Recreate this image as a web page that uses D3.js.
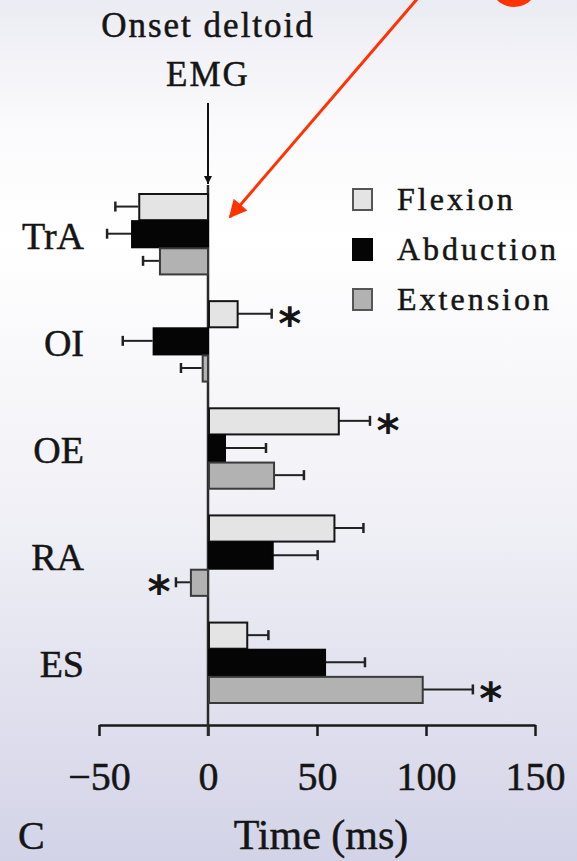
<!DOCTYPE html>
<html lang="en">
<head>
    <meta charset="UTF-8">
    <title>Onset deltoid EMG</title>
    <script src="https://cdn.jsdelivr.net/npm/d3@7"></script>
    <style>
        body {
            margin: 0;
            background: #ffffff;
        }

        text {
            font-family: "Liberation Serif", "Times New Roman", serif;
            fill: #151515;
            stroke: #151515;
            stroke-width: 0.5px;
        }

        text.title {
            font-size: 35px;
            letter-spacing: 2px;
        }

        text.cat {
            font-size: 38px;
        }

        text.legend {
            font-size: 32px;
            letter-spacing: 3px;
        }

        text.star {
            font-family: "DejaVu Sans", sans-serif;
            font-weight: bold;
            font-size: 44px;
            stroke-width: 0;
        }

        .x_axis path, .x_axis line {
            stroke: #1a1a1a;
            stroke-width: 2.5px;
        }

        .x_axis text {
            font-family: "Liberation Serif", "Times New Roman", serif;
            font-size: 40px;
            fill: #151515;
            stroke: #151515;
            stroke-width: 0.5px;
        }
    </style>
</head>
<body>
<div id="chart"></div>
<script>
    // values (ms, relative to deltoid onset)
    const muscles = ["TrA", "OI", "OE", "RA", "ES"];
    const tasks = ["Flexion", "Abduction", "Extension"];
    const flexion = [-32, 13.6, 60, 58, 18];
    const flexionSd = [10.5, 15.6, 14.3, 13.3, 9.7];
    const abduction = [-35.3, -25.4, 7.8, 29.7, 53.7];
    const abductionSd = [11, 13.7, 18.8, 20.6, 18.3];
    const extension = [-22.5, -2.9, 30.3, -8.3, 98.5];
    const extensionSd = [7.3, 9.5, 13.7, 6.4, 23];
    const flexionStar = [false, true, true, false, false];
    const abductionStar = [false, false, false, false, false];
    const extensionStar = [false, false, false, true, true];
    const xTicks = [-50, 0, 50, 100, 150];

    const W = 577, H = 861;
    const fills = {Flexion: "#e4e4e4", Abduction: "#050505", Extension: "#b2b2b2"};
    const strokes = {Flexion: "#151515", Abduction: "#050505", Extension: "#3a3a3a"};

    const series = [
        {task: "Flexion", mean: flexion, sd: flexionSd, star: flexionStar},
        {task: "Abduction", mean: abduction, sd: abductionSd, star: abductionStar},
        {task: "Extension", mean: extension, sd: extensionSd, star: extensionStar}
    ];
    const rows = [];
    series.forEach(function (s) {
        muscles.forEach(function (m, i) {
            rows.push({muscle: m, task: s.task, mean: s.mean[i], sd: s.sd[i], star: s.star[i]});
        });
    });

    const svg = d3.select("#chart").append("svg")
        .attr("width", W)
        .attr("height", H);

    // background gradient
    const grad = svg.append("defs").append("linearGradient")
        .attr("id", "bg").attr("x1", 0).attr("y1", 0).attr("x2", 0).attr("y2", 1);
    grad.append("stop").attr("offset", "0%").attr("stop-color", "#ebebf3");
    grad.append("stop").attr("offset", "14%").attr("stop-color", "#fafafc");
    grad.append("stop").attr("offset", "28%").attr("stop-color", "#ffffff");
    grad.append("stop").attr("offset", "60%").attr("stop-color", "#f0f0f6");
    grad.append("stop").attr("offset", "100%").attr("stop-color", "#d3d3e8");
    svg.append("rect").attr("width", W).attr("height", H).attr("fill", "url(#bg)");

    const x = d3.scaleLinear().domain([-50, 150]).range([99, 535]);
    const y = d3.scaleBand().domain(muscles).range([193, 703]).paddingInner(0.24);
    const yTask = d3.scaleBand().domain(tasks).range([0, y.bandwidth()]);
    const axisY = 725;

    // x axis
    svg.append("g")
        .attr("class", "x_axis")
        .attr("transform", "translate(0," + axisY + ")")
        .call(d3.axisBottom(x).tickValues(xTicks).tickSize(11).tickSizeOuter(0).tickPadding(26));

    // vertical zero line + onset arrow
    svg.append("defs").append("marker")
        .attr("id", "head").attr("viewBox", "0 0 10 10")
        .attr("refX", 10).attr("refY", 5)
        .attr("markerWidth", 4).attr("markerHeight", 5).attr("orient", "auto")
        .append("path").attr("d", "M0,0L10,5L0,10Z").attr("fill", "#111");
    svg.append("line")
        .attr("x1", x(0)).attr("x2", x(0)).attr("y1", 103).attr("y2", 184)
        .attr("stroke", "#111").attr("stroke-width", 2)
        .attr("marker-end", "url(#head)");
    svg.append("line")
        .attr("x1", x(0)).attr("x2", x(0)).attr("y1", 185).attr("y2", axisY + 11)
        .attr("stroke", "#2a2a2a").attr("stroke-width", 2.5);

    svg.append("text").attr("class", "title")
        .attr("x", x(0)).attr("y", 37).attr("text-anchor", "middle").text("Onset deltoid");
    svg.append("text").attr("class", "title")
        .attr("x", x(0)).attr("y", 86).attr("text-anchor", "middle").text("EMG");

    // bars
    const barY = d => y(d.muscle) + yTask(d.task);
    const tipOf = d => d.mean + (d.mean < 0 ? -d.sd : d.sd);

    svg.selectAll("bar")
        .data(rows)
        .enter().append("line")
        .attr("x1", d => x(d.mean))
        .attr("x2", d => x(tipOf(d)))
        .attr("y1", d => barY(d) + yTask.bandwidth() / 2)
        .attr("y2", d => barY(d) + yTask.bandwidth() / 2)
        .attr("stroke", "#222").attr("stroke-width", 2);
    svg.selectAll("cap")
        .data(rows)
        .enter().append("line")
        .attr("x1", d => x(tipOf(d)))
        .attr("x2", d => x(tipOf(d)))
        .attr("y1", d => barY(d) + yTask.bandwidth() / 2 - 5)
        .attr("y2", d => barY(d) + yTask.bandwidth() / 2 + 5)
        .attr("stroke", "#222").attr("stroke-width", 2.5);

    svg.selectAll("bar")
        .data(rows)
        .enter().append("rect")
        .attr("x", d => Math.min(x(0), x(d.mean)) + 1)
        .attr("width", d => Math.max(1, Math.abs(x(d.mean) - x(0)) - 1))
        .attr("y", d => barY(d) + 1)
        .attr("height", yTask.bandwidth() - 1)
        .attr("fill", d => fills[d.task])
        .attr("stroke", d => strokes[d.task])
        .attr("stroke-width", 2);

    // significance stars
    svg.selectAll("star")
        .data(rows.filter(d => d.star))
        .enter().append("text")
        .attr("class", "star")
        .attr("text-anchor", "middle")
        .attr("x", d => x(tipOf(d)) + (d.mean < 0 ? -17 : 18))
        .attr("y", d => barY(d) + yTask.bandwidth() / 2 + 25)
        .text("*");

    // category labels
    svg.selectAll("label")
        .data(muscles)
        .enter().append("text")
        .attr("class", "cat")
        .attr("text-anchor", "end")
        .attr("x", 84)
        .attr("y", d => y(d) + y.bandwidth() / 2 + 15)
        .text(d => d);

    // legend
    const legend = svg.selectAll("legend")
        .data(tasks)
        .enter().append("g")
        .attr("transform", (d, i) => "translate(352," + (199 + i * 50) + ")");
    legend.append("rect")
        .attr("x", 1).attr("y", -10).attr("width", 19).attr("height", 21)
        .attr("fill", d => fills[d])
        .attr("stroke", d => d === "Abduction" ? "#050505" : "#555")
        .attr("stroke-width", 2);
    legend.append("text")
        .attr("class", "legend")
        .attr("x", 45).attr("y", 11)
        .text(d => d);

    // x axis title and panel letter
    svg.append("text")
        .attr("x", 321).attr("y", 849).attr("text-anchor", "middle")
        .style("font-size", "42px")
        .text("Time (ms)");
    svg.append("text")
        .attr("x", 18).attr("y", 849)
        .style("font-size", "40px")
        .text("C");

    // red annotation arrow and cropped red marks along the top edge
    svg.append("defs").append("marker")
        .attr("id", "redhead").attr("viewBox", "0 0 10 10")
        .attr("refX", 9).attr("refY", 5)
        .attr("markerWidth", 20).attr("markerHeight", 18).attr("orient", "auto")
        .attr("markerUnits", "userSpaceOnUse")
        .append("path").attr("d", "M0,0L10,5L0,10Z").attr("fill", "#ff3300");
    svg.append("line")
        .attr("x1", 418).attr("y1", -2).attr("x2", 230).attr("y2", 217)
        .attr("stroke", "#ff3300").attr("stroke-width", 3)
        .attr("marker-end", "url(#redhead)");
    svg.append("ellipse")
        .attr("cx", 514).attr("cy", -8).attr("rx", 20).attr("ry", 15)
        .attr("fill", "#ff3300");
    svg.append("ellipse")
        .attr("cx", 592).attr("cy", -10).attr("rx", 20).attr("ry", 14)
        .attr("fill", "#ff3300");
</script>
</body>
</html>
